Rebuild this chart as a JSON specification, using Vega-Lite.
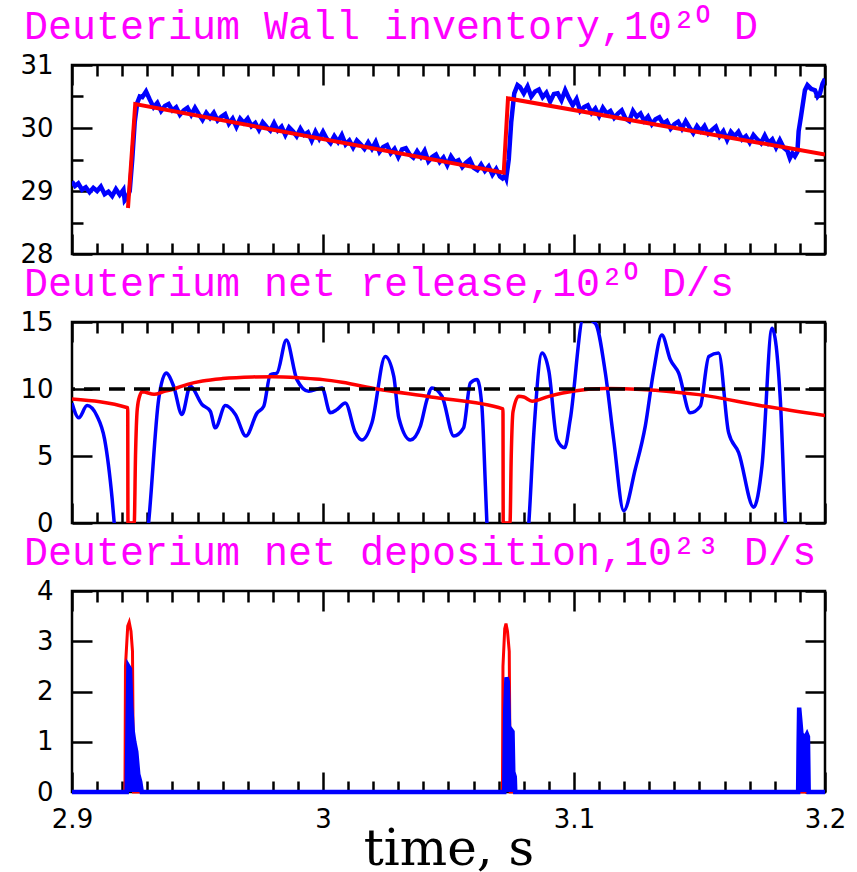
{
"$schema": "https://vega.github.io/schema/vega-lite/v6.json",
"padding": {"left": 18, "top": 5, "right": 10, "bottom": 0},
"spacing": -7,
"config": {
  "view": {"stroke": "black", "strokeWidth": 2.5},
  "axis": {"grid": false, "domain": false, "minExtent": 0, "labelFont": "DejaVu Sans", "labelFontSize": 26, "labelColor": "black", "tickColor": "black", "tickWidth": 2.5, "labelOverlap": false, "labelFlush": false, "labelBound": false},
  "title": {"font": "Liberation Mono", "fontSize": 40, "fontWeight": "normal", "color": "#ff00ff", "anchor": "start", "frame": "group", "dx": -48, "offset": 5}
},
"datasets": {
  "p1blue": [
    {"t":2.9,"v":29.15},{"t":2.9012,"v":29.08},{"t":2.9025,"v":29.12},{"t":2.904,"v":29.02},{"t":2.9055,"v":29.06},{"t":2.907,"v":28.98},{"t":2.9085,"v":29.05},{"t":2.91,"v":29.0},{"t":2.9115,"v":29.07},{"t":2.913,"v":28.95},{"t":2.9145,"v":28.99},{"t":2.916,"v":28.92},{"t":2.9175,"v":29.03},{"t":2.919,"v":28.94},{"t":2.9205,"v":29.02},{"t":2.921,"v":28.85},{"t":2.922,"v":28.9},{"t":2.923,"v":29.0},{"t":2.924,"v":29.5},{"t":2.925,"v":30.1},{"t":2.926,"v":30.4},{"t":2.927,"v":30.5},
    {"t":2.928,"v":30.49},{"t":2.9295,"v":30.58},{"t":2.931,"v":30.45},{"t":2.9325,"v":30.33},{"t":2.934,"v":30.40},{"t":2.9355,"v":30.27},{"t":2.937,"v":30.35},{"t":2.9385,"v":30.38},{"t":2.94,"v":30.28},{"t":2.9415,"v":30.33},{"t":2.943,"v":30.21},{"t":2.9445,"v":30.28},{"t":2.946,"v":30.32},{"t":2.9475,"v":30.21},{"t":2.949,"v":30.32},{"t":2.9505,"v":30.22},{"t":2.952,"v":30.13},{"t":2.9535,"v":30.24},{"t":2.955,"v":30.16},{"t":2.9565,"v":30.24},{"t":2.958,"v":30.12},{"t":2.9595,"v":30.18},{"t":2.961,"v":30.22},{"t":2.9625,"v":30.07},{"t":2.964,"v":30.15},{"t":2.9655,"v":30.02},{"t":2.967,"v":30.15},{"t":2.9685,"v":30.08},{"t":2.97,"v":30.15},{"t":2.9715,"v":30.03},
    {"t":2.973,"v":30.08},{"t":2.9745,"v":29.97},{"t":2.976,"v":30.09},{"t":2.9775,"v":30.02},{"t":2.979,"v":29.96},{"t":2.9805,"v":30.08},{"t":2.982,"v":29.96},{"t":2.9835,"v":30.02},{"t":2.985,"v":29.89},{"t":2.9865,"v":30.01},{"t":2.988,"v":29.95},{"t":2.9895,"v":29.87},{"t":2.991,"v":29.99},{"t":2.9925,"v":29.89},{"t":2.994,"v":29.93},{"t":2.9955,"v":29.80},{"t":2.997,"v":29.94},{"t":2.9985,"v":29.83},{"t":3.0,"v":29.94},{"t":3.0015,"v":29.83},{"t":3.003,"v":29.76},{"t":3.0045,"v":29.87},{"t":3.006,"v":29.78},{"t":3.0075,"v":29.89},{"t":3.009,"v":29.74},{"t":3.0105,"v":29.80},{"t":3.012,"v":29.69},{"t":3.0135,"v":29.80},{"t":3.015,"v":29.74},{"t":3.0165,"v":29.67},
    {"t":3.018,"v":29.77},{"t":3.0195,"v":29.67},{"t":3.021,"v":29.78},{"t":3.0225,"v":29.62},{"t":3.024,"v":29.70},{"t":3.0255,"v":29.73},{"t":3.027,"v":29.60},{"t":3.0285,"v":29.67},{"t":3.03,"v":29.54},{"t":3.0315,"v":29.66},{"t":3.033,"v":29.68},{"t":3.0345,"v":29.58},{"t":3.036,"v":29.53},{"t":3.0375,"v":29.63},{"t":3.039,"v":29.54},{"t":3.0405,"v":29.64},{"t":3.042,"v":29.47},{"t":3.0435,"v":29.54},{"t":3.045,"v":29.58},{"t":3.0465,"v":29.46},{"t":3.048,"v":29.53},{"t":3.0495,"v":29.41},{"t":3.051,"v":29.55},{"t":3.0525,"v":29.46},{"t":3.054,"v":29.49},{"t":3.0555,"v":29.38},{"t":3.057,"v":29.45},{"t":3.0585,"v":29.50},{"t":3.06,"v":29.37},{"t":3.0615,"v":29.33},
    {"t":3.063,"v":29.42},{"t":3.0645,"v":29.32},{"t":3.066,"v":29.39},{"t":3.0675,"v":29.26},{"t":3.069,"v":29.35},{"t":3.0705,"v":29.23},{"t":3.0715,"v":29.2},{"t":3.0725,"v":29.25},{"t":3.073,"v":29.2},{"t":3.074,"v":29.5},{"t":3.075,"v":30.1},{"t":3.0762,"v":30.55},{"t":3.0775,"v":30.68},
    {"t":3.0785,"v":30.65},{"t":3.08,"v":30.55},{"t":3.0815,"v":30.66},{"t":3.083,"v":30.50},{"t":3.0845,"v":30.58},{"t":3.086,"v":30.61},{"t":3.0875,"v":30.49},{"t":3.089,"v":30.56},{"t":3.0905,"v":30.42},{"t":3.092,"v":30.54},{"t":3.0935,"v":30.55},{"t":3.095,"v":30.44},{"t":3.0965,"v":30.60},{"t":3.098,"v":30.47},{"t":3.0995,"v":30.36},{"t":3.101,"v":30.46},{"t":3.1025,"v":30.27},{"t":3.104,"v":30.33},{"t":3.1055,"v":30.36},{"t":3.107,"v":30.24},{"t":3.1085,"v":30.31},{"t":3.11,"v":30.19},{"t":3.1115,"v":30.32},{"t":3.113,"v":30.23},{"t":3.1145,"v":30.27},{"t":3.116,"v":30.16},{"t":3.1175,"v":30.23},{"t":3.119,"v":30.28},{"t":3.1205,"v":30.15},{"t":3.122,"v":30.11},
    {"t":3.1235,"v":30.27},{"t":3.125,"v":30.18},{"t":3.1265,"v":30.23},{"t":3.128,"v":30.11},{"t":3.1295,"v":30.18},{"t":3.131,"v":30.06},{"t":3.1325,"v":30.14},{"t":3.134,"v":30.17},{"t":3.1355,"v":30.07},{"t":3.137,"v":30.11},{"t":3.1385,"v":29.99},{"t":3.14,"v":30.06},{"t":3.1415,"v":30.10},{"t":3.143,"v":29.99},{"t":3.1445,"v":30.11},{"t":3.146,"v":30.01},{"t":3.1475,"v":29.92},{"t":3.149,"v":30.03},{"t":3.1505,"v":29.95},{"t":3.152,"v":30.03},{"t":3.1535,"v":29.91},{"t":3.155,"v":29.97},{"t":3.1565,"v":30.02},{"t":3.158,"v":29.87},{"t":3.1595,"v":29.95},{"t":3.161,"v":29.81},{"t":3.1625,"v":29.94},{"t":3.164,"v":29.87},{"t":3.1655,"v":29.94},{"t":3.167,"v":29.82},
    {"t":3.1685,"v":29.87},{"t":3.17,"v":29.77},{"t":3.1715,"v":29.89},{"t":3.173,"v":29.82},{"t":3.1745,"v":29.76},{"t":3.176,"v":29.88},{"t":3.1775,"v":29.76},{"t":3.179,"v":29.82},{"t":3.1805,"v":29.69},{"t":3.182,"v":29.81},{"t":3.1835,"v":29.69},{"t":3.185,"v":29.64},{"t":3.186,"v":29.52},{"t":3.187,"v":29.6},{"t":3.188,"v":29.55},{"t":3.189,"v":29.62},{"t":3.1895,"v":29.95},{"t":3.1905,"v":30.2},{"t":3.192,"v":30.6},{"t":3.193,"v":30.68},{"t":3.1945,"v":30.62},{"t":3.196,"v":30.6},{"t":3.197,"v":30.5},{"t":3.198,"v":30.55},{"t":3.199,"v":30.7},{"t":3.2,"v":30.78}
  ],
  "p1red": [
    {"t":2.9223,"v":28.73},{"t":2.9252,"v":30.38},{"t":3.072,"v":29.29},{"t":3.0737,"v":30.47},{"t":3.2,"v":29.58}
  ],
  "p2blue": [
    {"t":2.9,"v":8.96},{"t":2.9027,"v":7.85},{"t":2.906,"v":8.76},{"t":2.91,"v":7.97},{"t":2.913,"v":6.24},{"t":2.916,"v":1.79},{"t":2.9175,"v":-1.5},{"t":2.92,"v":-6},{"t":2.927,"v":-6},{"t":2.929,"v":-2.5},{"t":2.9305,"v":0},{"t":2.9345,"v":9.2},{"t":2.9375,"v":11.19},{"t":2.9405,"v":10.2},{"t":2.9438,"v":8.1},{"t":2.9471,"v":10.2},{"t":2.9518,"v":8.84},{"t":2.9551,"v":8.34},{"t":2.9571,"v":7.1},{"t":2.9611,"v":8.76},{"t":2.9651,"v":8.1},{"t":2.9693,"v":6.49},{"t":2.9737,"v":8.2},{"t":2.9764,"v":8.71},{"t":2.979,"v":11.06},{"t":2.9817,"v":11.2},{"t":2.9854,"v":13.66},{"t":2.9896,"v":10.7},{"t":2.9943,"v":9.83},{"t":2.9996,"v":10.08},{"t":3.0029,"v":8.22},{"t":3.0056,"v":8.47},{"t":3.0089,"v":8.96},{"t":3.0129,"v":6.74},{"t":3.0155,"v":6.19},{"t":3.0195,"v":7.48},{"t":3.0248,"v":12.43},{"t":3.0282,"v":10.94},{"t":3.0302,"v":7.85},{"t":3.0348,"v":6.19},{"t":3.0388,"v":7.23},{"t":3.0414,"v":9.2},{"t":3.0434,"v":10.08},{"t":3.0474,"v":9.46},{"t":3.0521,"v":6.49},{"t":3.056,"v":7.1},{"t":3.0587,"v":10.45},{"t":3.0614,"v":10.7},{"t":3.0633,"v":8.71},{"t":3.0647,"v":2.77},{"t":3.0653,"v":0},{"t":3.067,"v":-5},{"t":3.079,"v":-5},{"t":3.082,"v":0},{"t":3.084,"v":6.74},{"t":3.0873,"v":12.68},{"t":3.09,"v":11.31},{"t":3.0932,"v":6.24},{"t":3.0963,"v":5.62},{"t":3.0985,"v":7.72},{"t":3.1038,"v":15.3},{"t":3.1085,"v":14.9},{"t":3.1125,"v":11.19},{"t":3.1158,"v":6.24},{"t":3.1198,"v":0.92},{"t":3.1244,"v":4.01},{"t":3.1284,"v":7.23},{"t":3.1317,"v":11.31},{"t":3.135,"v":14.03},{"t":3.1384,"v":12.18},{"t":3.1417,"v":11.19},{"t":3.1463,"v":8.22},{"t":3.1503,"v":8.71},{"t":3.1537,"v":12.43},{"t":3.1576,"v":12.68},{"t":3.1616,"v":6.74},{"t":3.1656,"v":5.25},{"t":3.1716,"v":1.17},{"t":3.1749,"v":4.26},{"t":3.1789,"v":14.53},{"t":3.1822,"v":9.2},{"t":3.1842,"v":0},{"t":3.186,"v":-6}
  ],
  "p2red": [
    {"t":2.9,"v":9.26},{"t":2.9222,"v":8.6},{"t":2.9223,"v":0},{"t":2.9248,"v":0},{"t":2.9253,"v":5},{"t":2.926,"v":8.5},{"t":2.927,"v":9.5},{"t":2.928,"v":9.8},{"t":2.9327,"v":9.6},{"t":2.9365,"v":9.8},{"t":2.9406,"v":10.0},{"t":2.946,"v":10.35},{"t":2.952,"v":10.6},{"t":2.96,"v":10.78},{"t":2.972,"v":10.9},{"t":2.98,"v":10.92},{"t":2.9916,"v":10.82},{"t":3.0,"v":10.7},{"t":3.0076,"v":10.5},{"t":3.0215,"v":10.0},{"t":3.043,"v":9.41},{"t":3.0717,"v":8.52},{"t":3.0718,"v":0},{"t":3.0745,"v":0},{"t":3.075,"v":5},{"t":3.0757,"v":8.3},{"t":3.078,"v":9.46},{"t":3.08,"v":9.4},{"t":3.0833,"v":9.09},{"t":3.09,"v":9.45},{"t":3.1,"v":9.85},{"t":3.113,"v":10.03},{"t":3.127,"v":9.97},{"t":3.1497,"v":9.58},{"t":3.176,"v":8.71},{"t":3.2,"v":8.02}
  ],
  "p2ref": [
    {"v":10}
  ],
  "p3red": [
    {"t":2.9,"v":0},{"t":2.9211,"v":0},{"t":2.9213,"v":2.5},{"t":2.9222,"v":3.3},{"t":2.9228,"v":3.38},{"t":2.9235,"v":3.2},{"t":2.9241,"v":2.8},{"t":2.9245,"v":0},{"t":3.0715,"v":0},{"t":3.0717,"v":2.5},{"t":3.0724,"v":3.25},{"t":3.0729,"v":3.35},{"t":3.0735,"v":3.2},{"t":3.0742,"v":2.8},{"t":3.0746,"v":0},{"t":3.2,"v":0}
  ],
  "p3blue": [
    {"t":2.9,"v":0},{"t":2.9218,"v":0},{"t":2.9222,"v":1.5},{"t":2.9225,"v":2.5},{"t":2.9231,"v":2.45},{"t":2.9236,"v":1.7},{"t":2.9242,"v":1.2},{"t":2.9248,"v":1.0},{"t":2.9256,"v":0.8},{"t":2.9264,"v":0.35},{"t":2.9272,"v":0.2},{"t":2.9278,"v":0},{"t":3.0722,"v":0},{"t":3.0726,"v":1.6},{"t":3.0731,"v":2.28},{"t":3.0736,"v":2.2},{"t":3.0741,"v":1.3},{"t":3.0748,"v":1.25},{"t":3.0755,"v":1.2},{"t":3.0758,"v":0.4},{"t":3.0764,"v":0.3},{"t":3.0766,"v":0},{"t":3.1893,"v":0},{"t":3.1895,"v":1.0},{"t":3.1897,"v":1.68},{"t":3.1902,"v":1.4},{"t":3.1907,"v":1.1},{"t":3.1915,"v":1.12},{"t":3.1923,"v":1.1},{"t":3.1928,"v":1.15},{"t":3.1932,"v":1.1},{"t":3.1935,"v":0},{"t":3.2,"v":0}
  ]
},
"vconcat": [
  {
    "title": "Deuterium Wall inventory,10²⁰ D",
    "width": 753, "height": 189,
    "resolve": {"axis": {"x": "independent", "y": "independent"}},
    "layer": [
      {"data": {"name": "p1blue"},
       "mark": {"type": "line", "color": "#0000ff", "strokeWidth": 4.5, "clip": true},
       "encoding": {
         "x": {"field": "t", "type": "quantitative", "scale": {"domain": [2.9, 3.2], "nice": false, "zero": false},
               "axis": {"orient": "bottom", "values": [2.9,2.91,2.92,2.93,2.94,2.95,2.96,2.97,2.98,2.99,3,3.01,3.02,3.03,3.04,3.05,3.06,3.07,3.08,3.09,3.1,3.11,3.12,3.13,3.14,3.15,3.16,3.17,3.18,3.19,3.2], "labels": false, "title": null,
                        "tickSize": {"condition": {"test": "abs(datum.value*10-round(datum.value*10))<0.001", "value": -20}, "value": -11}}},
         "y": {"field": "v", "type": "quantitative", "scale": {"domain": [28, 31], "nice": false, "zero": false},
               "axis": {"orient": "left", "values": [28,28.5,29,29.5,30,30.5,31], "title": null, "labelPadding": 39,
                        "labelExpr": "datum.value % 1 == 0 ? format(datum.value, 'd') : ''",
                        "tickSize": {"condition": {"test": "datum.value % 1 == 0", "value": -20}, "value": -11}}}
       }},
      {"data": {"name": "p1red"},
       "mark": {"type": "line", "color": "#ff0000", "strokeWidth": 4, "clip": true},
       "encoding": {
         "x": {"field": "t", "type": "quantitative", "scale": {"domain": [2.9, 3.2], "nice": false, "zero": false},
               "axis": {"orient": "top", "values": [2.9,2.91,2.92,2.93,2.94,2.95,2.96,2.97,2.98,2.99,3,3.01,3.02,3.03,3.04,3.05,3.06,3.07,3.08,3.09,3.1,3.11,3.12,3.13,3.14,3.15,3.16,3.17,3.18,3.19,3.2], "labels": false, "title": null,
                        "tickSize": {"condition": {"test": "abs(datum.value*10-round(datum.value*10))<0.001", "value": -20}, "value": -11}}},
         "y": {"field": "v", "type": "quantitative", "scale": {"domain": [28, 31], "nice": false, "zero": false},
               "axis": {"orient": "right", "values": [28,28.5,29,29.5,30,30.5,31], "title": null, "labels": false,
                        "tickSize": {"condition": {"test": "datum.value % 1 == 0", "value": -20}, "value": -11}}}
       }}
    ]
  },
  {
    "title": "Deuterium net release,10²⁰ D/s",
    "width": 753, "height": 201,
    "resolve": {"axis": {"x": "independent", "y": "independent"}},
    "layer": [
      {"data": {"name": "p2blue"},
       "mark": {"type": "line", "color": "#0000ff", "strokeWidth": 3.5, "interpolate": "monotone", "clip": true},
       "encoding": {
         "x": {"field": "t", "type": "quantitative", "scale": {"domain": [2.9, 3.2], "nice": false, "zero": false},
               "axis": {"orient": "bottom", "values": [2.9,2.91,2.92,2.93,2.94,2.95,2.96,2.97,2.98,2.99,3,3.01,3.02,3.03,3.04,3.05,3.06,3.07,3.08,3.09,3.1,3.11,3.12,3.13,3.14,3.15,3.16,3.17,3.18,3.19,3.2], "labels": false, "title": null,
                        "tickSize": {"condition": {"test": "abs(datum.value*10-round(datum.value*10))<0.001", "value": -20}, "value": -11}}},
         "y": {"field": "v", "type": "quantitative", "scale": {"domain": [0, 15], "nice": false, "zero": false},
               "axis": {"orient": "left", "values": [0,5,10,15], "title": null, "format": "d", "labelPadding": 39, "tickSize": -20}}
       }},
      {"data": {"name": "p2red"},
       "mark": {"type": "line", "color": "#ff0000", "strokeWidth": 3.5, "interpolate": "monotone", "clip": true},
       "encoding": {
         "x": {"field": "t", "type": "quantitative", "scale": {"domain": [2.9, 3.2], "nice": false, "zero": false},
               "axis": {"orient": "top", "values": [2.9,2.91,2.92,2.93,2.94,2.95,2.96,2.97,2.98,2.99,3,3.01,3.02,3.03,3.04,3.05,3.06,3.07,3.08,3.09,3.1,3.11,3.12,3.13,3.14,3.15,3.16,3.17,3.18,3.19,3.2], "labels": false, "title": null,
                        "tickSize": {"condition": {"test": "abs(datum.value*10-round(datum.value*10))<0.001", "value": -20}, "value": -11}}},
         "y": {"field": "v", "type": "quantitative", "scale": {"domain": [0, 15], "nice": false, "zero": false},
               "axis": {"orient": "right", "values": [0,5,10,15], "title": null, "labels": false, "tickSize": -20}}
       }},
      {"data": {"name": "p2ref"},
       "mark": {"type": "rule", "color": "black", "strokeWidth": 3.5, "strokeDash": [16, 9]},
       "encoding": {"y": {"field": "v", "type": "quantitative", "axis": null}}}
    ]
  },
  {
    "title": "Deuterium net deposition,10²³ D/s",
    "width": 753, "height": 201,
    "resolve": {"axis": {"x": "independent", "y": "independent"}},
    "layer": [
      {"data": {"name": "p3red"},
       "mark": {"type": "line", "color": "#ff0000", "strokeWidth": 3, "clip": false},
       "encoding": {
         "x": {"field": "t", "type": "quantitative", "scale": {"domain": [2.9, 3.2], "nice": false, "zero": false},
               "axis": {"orient": "bottom", "values": [2.9,2.91,2.92,2.93,2.94,2.95,2.96,2.97,2.98,2.99,3,3.01,3.02,3.03,3.04,3.05,3.06,3.07,3.08,3.09,3.1,3.11,3.12,3.13,3.14,3.15,3.16,3.17,3.18,3.19,3.2],
                        "labelExpr": "abs(datum.value*10-round(datum.value*10))<0.001 ? format(datum.value, '~g') : ''",
                        "labelPadding": 34,
                        "title": "time, s", "titleFont": "DejaVu Serif", "titleFontSize": 50, "titleFontWeight": "normal", "titleColor": "black",
                        "titleBaseline": "alphabetic", "titleY": 72,
                        "tickSize": {"condition": {"test": "abs(datum.value*10-round(datum.value*10))<0.001", "value": -20}, "value": -11}}},
         "y": {"field": "v", "type": "quantitative", "scale": {"domain": [0, 4], "nice": false, "zero": false},
               "axis": {"orient": "left", "values": [0,1,2,3,4], "title": null, "format": "d", "labelPadding": 39, "tickSize": -20}}
       }},
      {"data": {"name": "p3blue"},
       "mark": {"type": "area", "color": "#0000ff", "opacity": 1, "line": {"color": "#0000ff", "strokeWidth": 4.5}, "clip": false},
       "encoding": {
         "x": {"field": "t", "type": "quantitative", "scale": {"domain": [2.9, 3.2], "nice": false, "zero": false},
               "axis": {"orient": "top", "values": [2.9,2.91,2.92,2.93,2.94,2.95,2.96,2.97,2.98,2.99,3,3.01,3.02,3.03,3.04,3.05,3.06,3.07,3.08,3.09,3.1,3.11,3.12,3.13,3.14,3.15,3.16,3.17,3.18,3.19,3.2], "labels": false, "title": null,
                        "tickSize": {"condition": {"test": "abs(datum.value*10-round(datum.value*10))<0.001", "value": -20}, "value": -11}}},
         "y": {"field": "v", "type": "quantitative", "scale": {"domain": [0, 4], "nice": false, "zero": false},
               "axis": {"orient": "right", "values": [0,1,2,3,4], "title": null, "labels": false, "tickSize": -20}}
       }}
    ]
  }
]
}
